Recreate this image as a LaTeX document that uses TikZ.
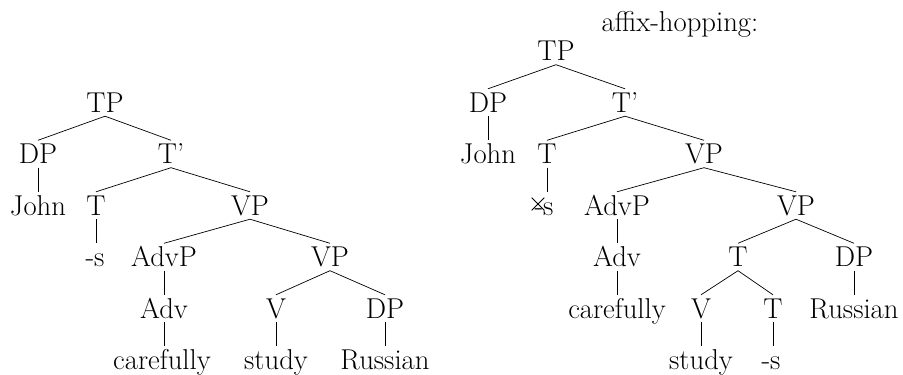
\documentclass[tikz,border=0pt]{standalone}
\usetikzlibrary{shapes.misc}

\begin{document}
\begin{tikzpicture}[
    x=0.03cm, y=-0.03cm,
    every node/.style={font=\fontsize{24.5}{29}\selectfont},
    cat/.style={inner xsep=0pt, inner ysep=3.2pt, text height=16.6pt, text depth=0pt},
    branch/.style={line width=0.6pt},
]
\useasboundingbox (0,0) rectangle (903,375);

% Row heights (shared by both trees)
\def\rowA{51}
\def\rowB{102.5}
\def\rowC{154}
\def\rowD{205.5}
\def\rowE{257}
\def\rowF{308.5}
\def\rowG{360}

% ---------------- Left tree ----------------
% Row B: TP
\node[cat] (ltp) at (105,\rowB) {TP};

% Row C: DP, T'
\node[cat] (ldp) at (38,\rowC) {DP};
\node[cat] (ltbar) at (171,\rowC) {T'};
\draw[branch] (ltp.south) -- (ldp.north);
\draw[branch] (ltp.south) -- (ltbar.north);

% Row D: John, T, VP
\node[cat] (ljohn) at (38,\rowD) {John};
\node[cat] (lt) at (96,\rowD) {T};
\node[cat] (lvp) at (250,\rowD) {VP};
\draw[branch] (ldp.south) -- (ljohn.north);
\draw[branch] (ltbar.south) -- (lt.north);
\draw[branch] (ltbar.south) -- (lvp.north);

% Row E: -s, AdvP, VP
\node[cat] (ls) at (95,\rowE) {-s};
\node[cat] (ladvp) at (164,\rowE) {AdvP};
\node[cat] (lvpb) at (330,\rowE) {VP};
\draw[branch] (lt.south) -- (lt.south |- ls.north);
\draw[branch] (lvp.south) -- (ladvp.north);
\draw[branch] (lvp.south) -- (lvpb.north);

% Row F: Adv, V, DP
\node[cat] (ladv) at (164,\rowF) {Adv};
\node[cat] (lv) at (276,\rowF) {V};
\node[cat] (ldpb) at (385,\rowF) {DP};
\draw[branch] (ladvp.south) -- (ladv.north);
\draw[branch] (lvpb.south) -- (lv.north);
\draw[branch] (lvpb.south) -- (ldpb.north);

% Row G: words
\node[cat] (lcarefully) at (162,\rowG) {carefully};
\node[cat] (lstudy) at (276,\rowG) {study};
\node[cat] (lrussian) at (385,\rowG) {Russian};
\draw[branch] (ladv.south) -- (ladv.south |- lcarefully.north);
\draw[branch] (lv.south) -- (lstudy.north);
\draw[branch] (ldpb.south) -- (lrussian.north);

% ---------------- Right tree ----------------
\node[anchor=base] (rlabel) at (680,32) {affix-hopping:};

% Row A: TP
\node[cat] (rtp) at (556,\rowA) {TP};

% Row B: DP, T'
\node[cat] (rdp) at (488,\rowB) {DP};
\node[cat] (rtbar) at (625,\rowB) {T'};
\draw[branch] (rtp.south) -- (rdp.north);
\draw[branch] (rtp.south) -- (rtbar.north);

% Row C: John, T, VP
\node[cat] (rjohn) at (488,\rowC) {John};
\node[cat] (rt) at (547,\rowC) {T};
\node[cat] (rvp) at (704,\rowC) {VP};
\draw[branch] (rdp.south) -- (rjohn.north);
\draw[branch] (rtbar.south) -- (rt.north);
\draw[branch] (rtbar.south) -- (rvp.north);

% Row D: crossed -s, AdvP, VP
\node[cat] (rs) at (544,\rowD) {-s};
\node[draw, cross out, branch, line width=0.8pt, inner sep=0pt, minimum width=10pt, minimum height=10pt] (rx) at (538,204) {};
\node[cat] (radvp) at (617,\rowD) {AdvP};
\node[cat] (rvpb) at (796,\rowD) {VP};
\draw[branch] (rt.south) -- (rt.south |- rs.north);
\draw[branch] (rvp.south) -- (radvp.north);
\draw[branch] (rvp.south) -- (rvpb.north);

% Row E: Adv, T, DP
\node[cat] (radv) at (617,\rowE) {Adv};
\node[cat] (rtb) at (738,\rowE) {T};
\node[cat] (rdpb) at (854,\rowE) {DP};
\draw[branch] (radvp.south) -- (radv.north);
\draw[branch] (rvpb.south) -- (rtb.north);
\draw[branch] (rvpb.south) -- (rdpb.north);

% Row F: carefully, V, T, Russian
\node[cat] (rcarefully) at (617,\rowF) {carefully};
\node[cat] (rv) at (701,\rowF) {V};
\node[cat] (rtc) at (773,\rowF) {T};
\node[cat] (rrussian) at (854,\rowF) {Russian};
\draw[branch] (radv.south) -- (rcarefully.north);
\draw[branch] (rtb.south) -- (rv.north);
\draw[branch] (rtb.south) -- (rtc.north);
\draw[branch] (rdpb.south) -- (rrussian.north);

% Row G: study, -s
\node[cat] (rstudy) at (701,\rowG) {study};
\node[cat] (rsb) at (771,\rowG) {-s};
\draw[branch] (rv.south) -- (rstudy.north);
\draw[branch] (rtc.south) -- (rtc.south |- rsb.north);

\end{tikzpicture}
\end{document}
